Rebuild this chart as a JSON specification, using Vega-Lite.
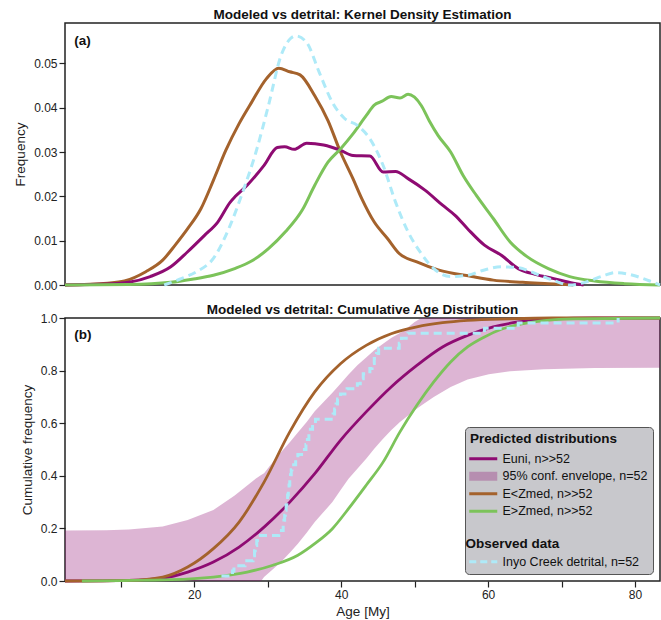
{
"$schema": "https://vega.github.io/schema/vega-lite/v6.json",
"autosize": {"type": "pad"},
"padding": {"left": 12, "top": 6, "right": 0, "bottom": 0},
"bounds": "flush",
"spacing": 33,
"config": {
  "font": "Liberation Sans",
  "view": {"stroke": "#222", "strokeWidth": 1.5},
  "axis": {"grid": false, "domain": false, "tickColor": "#222", "tickSize": 6, "tickWidth": 1.2, "labelFontSize": 12, "labelColor": "#222", "labelPadding": 2, "titleFontSize": 13.5, "titleFontWeight": "normal", "titleColor": "#222"},
  "axisY": {"titlePadding": 6},
  "axisX": {"titlePadding": 4},
  "title": {"fontSize": 13.5, "fontWeight": "bold", "color": "#111", "offset": 2}
},
"datasets": {
  "kde": [
    {"series": "Euni, n>>52", "age": 2.4, "value": 0},
    {"series": "Euni, n>>52", "age": 8.2, "value": 0.0002},
    {"series": "Euni, n>>52", "age": 11.1, "value": 0.0006},
    {"series": "Euni, n>>52", "age": 14.0, "value": 0.0019},
    {"series": "Euni, n>>52", "age": 16.8, "value": 0.0041},
    {"series": "Euni, n>>52", "age": 19.1, "value": 0.0075},
    {"series": "Euni, n>>52", "age": 21.4, "value": 0.0112},
    {"series": "Euni, n>>52", "age": 23.2, "value": 0.0142},
    {"series": "Euni, n>>52", "age": 24.9, "value": 0.0187},
    {"series": "Euni, n>>52", "age": 25.6, "value": 0.0200},
    {"series": "Euni, n>>52", "age": 27.2, "value": 0.0225},
    {"series": "Euni, n>>52", "age": 29.5, "value": 0.0270},
    {"series": "Euni, n>>52", "age": 31.3, "value": 0.0310},
    {"series": "Euni, n>>52", "age": 32.3, "value": 0.0312},
    {"series": "Euni, n>>52", "age": 33.6, "value": 0.0306},
    {"series": "Euni, n>>52", "age": 35.3, "value": 0.0320},
    {"series": "Euni, n>>52", "age": 37.6, "value": 0.0316},
    {"series": "Euni, n>>52", "age": 39.9, "value": 0.0304},
    {"series": "Euni, n>>52", "age": 41.6, "value": 0.0292},
    {"series": "Euni, n>>52", "age": 43.9, "value": 0.0291},
    {"series": "Euni, n>>52", "age": 45.7, "value": 0.0255},
    {"series": "Euni, n>>52", "age": 47.4, "value": 0.0256},
    {"series": "Euni, n>>52", "age": 49.1, "value": 0.0240},
    {"series": "Euni, n>>52", "age": 51.4, "value": 0.0214},
    {"series": "Euni, n>>52", "age": 53.8, "value": 0.0180},
    {"series": "Euni, n>>52", "age": 55.5, "value": 0.0157},
    {"series": "Euni, n>>52", "age": 57.2, "value": 0.0127},
    {"series": "Euni, n>>52", "age": 59.5, "value": 0.0090},
    {"series": "Euni, n>>52", "age": 61.8, "value": 0.0067},
    {"series": "Euni, n>>52", "age": 64.1, "value": 0.0037},
    {"series": "Euni, n>>52", "age": 66.4, "value": 0.0024},
    {"series": "Euni, n>>52", "age": 68.8, "value": 0.0015},
    {"series": "Euni, n>>52", "age": 71.6, "value": 0.0004},
    {"series": "Euni, n>>52", "age": 73.0, "value": 0},
    {"series": "E<Zmed, n>>52", "age": 2.4, "value": 0},
    {"series": "E<Zmed, n>>52", "age": 8.2, "value": 0.0004},
    {"series": "E<Zmed, n>>52", "age": 10.5, "value": 0.0009},
    {"series": "E<Zmed, n>>52", "age": 13.4, "value": 0.0030},
    {"series": "E<Zmed, n>>52", "age": 15.7, "value": 0.0056},
    {"series": "E<Zmed, n>>52", "age": 17.4, "value": 0.0090},
    {"series": "E<Zmed, n>>52", "age": 19.1, "value": 0.0127},
    {"series": "E<Zmed, n>>52", "age": 20.9, "value": 0.0172},
    {"series": "E<Zmed, n>>52", "age": 22.6, "value": 0.0236},
    {"series": "E<Zmed, n>>52", "age": 24.3, "value": 0.0304},
    {"series": "E<Zmed, n>>52", "age": 26.1, "value": 0.0364},
    {"series": "E<Zmed, n>>52", "age": 27.8, "value": 0.0412},
    {"series": "E<Zmed, n>>52", "age": 29.8, "value": 0.0465},
    {"series": "E<Zmed, n>>52", "age": 31.5, "value": 0.0489},
    {"series": "E<Zmed, n>>52", "age": 33.0, "value": 0.0481},
    {"series": "E<Zmed, n>>52", "age": 34.4, "value": 0.0474},
    {"series": "E<Zmed, n>>52", "age": 36.4, "value": 0.0427},
    {"series": "E<Zmed, n>>52", "age": 38.2, "value": 0.0371},
    {"series": "E<Zmed, n>>52", "age": 39.9, "value": 0.0300},
    {"series": "E<Zmed, n>>52", "age": 41.6, "value": 0.0240},
    {"series": "E<Zmed, n>>52", "age": 42.8, "value": 0.0195},
    {"series": "E<Zmed, n>>52", "age": 44.5, "value": 0.0142},
    {"series": "E<Zmed, n>>52", "age": 46.3, "value": 0.0105},
    {"series": "E<Zmed, n>>52", "age": 47.9, "value": 0.0071},
    {"series": "E<Zmed, n>>52", "age": 50.3, "value": 0.0052},
    {"series": "E<Zmed, n>>52", "age": 53.2, "value": 0.0034},
    {"series": "E<Zmed, n>>52", "age": 57.8, "value": 0.0019},
    {"series": "E<Zmed, n>>52", "age": 60.7, "value": 0.0011},
    {"series": "E<Zmed, n>>52", "age": 64.7, "value": 0.0006},
    {"series": "E<Zmed, n>>52", "age": 68.2, "value": 0.0003},
    {"series": "E<Zmed, n>>52", "age": 71.6, "value": 0},
    {"series": "E>Zmed, n>>52", "age": 2.4, "value": 0},
    {"series": "E>Zmed, n>>52", "age": 11.1, "value": 0.0001},
    {"series": "E>Zmed, n>>52", "age": 16.8, "value": 0.0006},
    {"series": "E>Zmed, n>>52", "age": 19.7, "value": 0.0013},
    {"series": "E>Zmed, n>>52", "age": 22.6, "value": 0.0022},
    {"series": "E>Zmed, n>>52", "age": 25.5, "value": 0.0037},
    {"series": "E>Zmed, n>>52", "age": 27.8, "value": 0.0054},
    {"series": "E>Zmed, n>>52", "age": 30.1, "value": 0.0082},
    {"series": "E>Zmed, n>>52", "age": 32.4, "value": 0.0120},
    {"series": "E>Zmed, n>>52", "age": 34.7, "value": 0.0169},
    {"series": "E>Zmed, n>>52", "age": 36.4, "value": 0.0225},
    {"series": "E>Zmed, n>>52", "age": 38.2, "value": 0.0277},
    {"series": "E>Zmed, n>>52", "age": 39.9, "value": 0.0307},
    {"series": "E>Zmed, n>>52", "age": 41.6, "value": 0.0341},
    {"series": "E>Zmed, n>>52", "age": 43.4, "value": 0.0382},
    {"series": "E>Zmed, n>>52", "age": 44.5, "value": 0.0406},
    {"series": "E>Zmed, n>>52", "age": 45.5, "value": 0.0414},
    {"series": "E>Zmed, n>>52", "age": 46.8, "value": 0.0425},
    {"series": "E>Zmed, n>>52", "age": 48.0, "value": 0.0422},
    {"series": "E>Zmed, n>>52", "age": 49.1, "value": 0.0430},
    {"series": "E>Zmed, n>>52", "age": 50.9, "value": 0.0405},
    {"series": "E>Zmed, n>>52", "age": 52.0, "value": 0.0370},
    {"series": "E>Zmed, n>>52", "age": 53.2, "value": 0.0337},
    {"series": "E>Zmed, n>>52", "age": 54.9, "value": 0.0300},
    {"series": "E>Zmed, n>>52", "age": 56.6, "value": 0.0247},
    {"series": "E>Zmed, n>>52", "age": 58.4, "value": 0.0202},
    {"series": "E>Zmed, n>>52", "age": 60.7, "value": 0.0150},
    {"series": "E>Zmed, n>>52", "age": 63.0, "value": 0.0097},
    {"series": "E>Zmed, n>>52", "age": 65.3, "value": 0.0064},
    {"series": "E>Zmed, n>>52", "age": 68.2, "value": 0.0037},
    {"series": "E>Zmed, n>>52", "age": 71.1, "value": 0.0019},
    {"series": "E>Zmed, n>>52", "age": 74.5, "value": 0.0009},
    {"series": "E>Zmed, n>>52", "age": 78.6, "value": 0.0003},
    {"series": "E>Zmed, n>>52", "age": 83.4, "value": 0},
    {"series": "Inyo Creek detrital, n=52", "age": 15.9, "value": 0},
    {"series": "Inyo Creek detrital, n=52", "age": 18.0, "value": 0.0013},
    {"series": "Inyo Creek detrital, n=52", "age": 20.3, "value": 0.0030},
    {"series": "Inyo Creek detrital, n=52", "age": 22.6, "value": 0.0060},
    {"series": "Inyo Creek detrital, n=52", "age": 24.9, "value": 0.0135},
    {"series": "Inyo Creek detrital, n=52", "age": 26.6, "value": 0.0210},
    {"series": "Inyo Creek detrital, n=52", "age": 28.4, "value": 0.0300},
    {"series": "Inyo Creek detrital, n=52", "age": 30.1, "value": 0.0405},
    {"series": "Inyo Creek detrital, n=52", "age": 31.8, "value": 0.0517},
    {"series": "Inyo Creek detrital, n=52", "age": 33.1, "value": 0.0556},
    {"series": "Inyo Creek detrital, n=52", "age": 33.8, "value": 0.0562},
    {"series": "Inyo Creek detrital, n=52", "age": 35.3, "value": 0.0547},
    {"series": "Inyo Creek detrital, n=52", "age": 37.0, "value": 0.0480},
    {"series": "Inyo Creek detrital, n=52", "age": 38.8, "value": 0.0412},
    {"series": "Inyo Creek detrital, n=52", "age": 40.5, "value": 0.0375},
    {"series": "Inyo Creek detrital, n=52", "age": 42.2, "value": 0.0360},
    {"series": "Inyo Creek detrital, n=52", "age": 43.9, "value": 0.0330},
    {"series": "Inyo Creek detrital, n=52", "age": 45.7, "value": 0.0270},
    {"series": "Inyo Creek detrital, n=52", "age": 47.4, "value": 0.0187},
    {"series": "Inyo Creek detrital, n=52", "age": 49.1, "value": 0.0120},
    {"series": "Inyo Creek detrital, n=52", "age": 50.9, "value": 0.0071},
    {"series": "Inyo Creek detrital, n=52", "age": 52.6, "value": 0.0037},
    {"series": "Inyo Creek detrital, n=52", "age": 54.9, "value": 0.0019},
    {"series": "Inyo Creek detrital, n=52", "age": 57.2, "value": 0.0022},
    {"series": "Inyo Creek detrital, n=52", "age": 59.5, "value": 0.0034},
    {"series": "Inyo Creek detrital, n=52", "age": 61.8, "value": 0.0041},
    {"series": "Inyo Creek detrital, n=52", "age": 64.1, "value": 0.0039},
    {"series": "Inyo Creek detrital, n=52", "age": 66.4, "value": 0.0026},
    {"series": "Inyo Creek detrital, n=52", "age": 68.8, "value": 0.0011},
    {"series": "Inyo Creek detrital, n=52", "age": 71.1, "value": 0},
    {"series": "Inyo Creek detrital, n=52", "age": 73.4, "value": 0.0007},
    {"series": "Inyo Creek detrital, n=52", "age": 75.7, "value": 0.0021},
    {"series": "Inyo Creek detrital, n=52", "age": 77.4, "value": 0.0028},
    {"series": "Inyo Creek detrital, n=52", "age": 79.7, "value": 0.0022},
    {"series": "Inyo Creek detrital, n=52", "age": 82.0, "value": 0.0009},
    {"series": "Inyo Creek detrital, n=52", "age": 83.4, "value": 0}
  ],
  "cdf": [
    {"series": "Euni, n>>52", "age": 2.4, "value": 0},
    {"series": "Euni, n>>52", "age": 11.1, "value": 0.0025},
    {"series": "Euni, n>>52", "age": 15.7, "value": 0.011},
    {"series": "Euni, n>>52", "age": 19.1, "value": 0.034},
    {"series": "Euni, n>>52", "age": 22.6, "value": 0.072},
    {"series": "Euni, n>>52", "age": 26.1, "value": 0.129},
    {"series": "Euni, n>>52", "age": 29.5, "value": 0.205},
    {"series": "Euni, n>>52", "age": 33.0, "value": 0.300},
    {"series": "Euni, n>>52", "age": 36.4, "value": 0.408},
    {"series": "Euni, n>>52", "age": 39.9, "value": 0.535},
    {"series": "Euni, n>>52", "age": 43.4, "value": 0.643},
    {"series": "Euni, n>>52", "age": 46.8, "value": 0.738},
    {"series": "Euni, n>>52", "age": 50.3, "value": 0.820},
    {"series": "Euni, n>>52", "age": 53.8, "value": 0.890},
    {"series": "Euni, n>>52", "age": 57.2, "value": 0.934},
    {"series": "Euni, n>>52", "age": 60.7, "value": 0.966},
    {"series": "Euni, n>>52", "age": 64.1, "value": 0.985},
    {"series": "Euni, n>>52", "age": 68.8, "value": 0.997},
    {"series": "Euni, n>>52", "age": 74.5, "value": 1.0},
    {"series": "Euni, n>>52", "age": 83.4, "value": 1.0},
    {"series": "E<Zmed, n>>52", "age": 2.4, "value": 0},
    {"series": "E<Zmed, n>>52", "age": 11.1, "value": 0.0025},
    {"series": "E<Zmed, n>>52", "age": 15.7, "value": 0.015},
    {"series": "E<Zmed, n>>52", "age": 19.1, "value": 0.053},
    {"series": "E<Zmed, n>>52", "age": 22.6, "value": 0.123},
    {"series": "E<Zmed, n>>52", "age": 26.1, "value": 0.224},
    {"series": "E<Zmed, n>>52", "age": 29.5, "value": 0.376},
    {"series": "E<Zmed, n>>52", "age": 33.0, "value": 0.567},
    {"series": "E<Zmed, n>>52", "age": 36.4, "value": 0.719},
    {"series": "E<Zmed, n>>52", "age": 39.9, "value": 0.826},
    {"series": "E<Zmed, n>>52", "age": 43.4, "value": 0.896},
    {"series": "E<Zmed, n>>52", "age": 46.8, "value": 0.940},
    {"series": "E<Zmed, n>>52", "age": 50.3, "value": 0.966},
    {"series": "E<Zmed, n>>52", "age": 53.8, "value": 0.982},
    {"series": "E<Zmed, n>>52", "age": 57.2, "value": 0.991},
    {"series": "E<Zmed, n>>52", "age": 63.0, "value": 0.997},
    {"series": "E<Zmed, n>>52", "age": 68.8, "value": 1.0},
    {"series": "E<Zmed, n>>52", "age": 83.4, "value": 1.0},
    {"series": "E>Zmed, n>>52", "age": 4.7, "value": 0},
    {"series": "E>Zmed, n>>52", "age": 16.8, "value": 0.005},
    {"series": "E>Zmed, n>>52", "age": 22.6, "value": 0.015},
    {"series": "E>Zmed, n>>52", "age": 27.2, "value": 0.034},
    {"series": "E>Zmed, n>>52", "age": 30.7, "value": 0.060},
    {"series": "E>Zmed, n>>52", "age": 34.1, "value": 0.098},
    {"series": "E>Zmed, n>>52", "age": 36.4, "value": 0.142},
    {"series": "E>Zmed, n>>52", "age": 38.8, "value": 0.199},
    {"series": "E>Zmed, n>>52", "age": 41.0, "value": 0.275},
    {"series": "E>Zmed, n>>52", "age": 43.4, "value": 0.364},
    {"series": "E>Zmed, n>>52", "age": 45.7, "value": 0.452},
    {"series": "E>Zmed, n>>52", "age": 48.0, "value": 0.567},
    {"series": "E>Zmed, n>>52", "age": 50.3, "value": 0.668},
    {"series": "E>Zmed, n>>52", "age": 52.6, "value": 0.757},
    {"series": "E>Zmed, n>>52", "age": 54.9, "value": 0.833},
    {"series": "E>Zmed, n>>52", "age": 57.2, "value": 0.890},
    {"series": "E>Zmed, n>>52", "age": 59.5, "value": 0.928},
    {"series": "E>Zmed, n>>52", "age": 61.8, "value": 0.957},
    {"series": "E>Zmed, n>>52", "age": 64.1, "value": 0.975},
    {"series": "E>Zmed, n>>52", "age": 67.6, "value": 0.990},
    {"series": "E>Zmed, n>>52", "age": 71.6, "value": 0.997},
    {"series": "E>Zmed, n>>52", "age": 83.4, "value": 1.0}
  ],
  "env": [
    {"age": 2.4, "lo": 0, "hi": 0.192},
    {"age": 8.0, "lo": 0, "hi": 0.193},
    {"age": 11.1, "lo": 0, "hi": 0.196},
    {"age": 15.7, "lo": 0, "hi": 0.207},
    {"age": 19.1, "lo": 0, "hi": 0.232},
    {"age": 22.6, "lo": 0, "hi": 0.270},
    {"age": 25.5, "lo": 0, "hi": 0.325},
    {"age": 28.4, "lo": 0, "hi": 0.390},
    {"age": 29.1, "lo": 0, "hi": 0.403},
    {"age": 29.5, "lo": 0.015, "hi": 0.410},
    {"age": 30.7, "lo": 0.045, "hi": 0.452},
    {"age": 31.8, "lo": 0.072, "hi": 0.490},
    {"age": 33.0, "lo": 0.107, "hi": 0.528},
    {"age": 34.1, "lo": 0.142, "hi": 0.565},
    {"age": 35.3, "lo": 0.183, "hi": 0.605},
    {"age": 36.4, "lo": 0.224, "hi": 0.645},
    {"age": 37.6, "lo": 0.262, "hi": 0.681},
    {"age": 38.8, "lo": 0.300, "hi": 0.716},
    {"age": 39.9, "lo": 0.345, "hi": 0.750},
    {"age": 41.0, "lo": 0.389, "hi": 0.785},
    {"age": 42.2, "lo": 0.427, "hi": 0.820},
    {"age": 43.4, "lo": 0.465, "hi": 0.850},
    {"age": 44.5, "lo": 0.503, "hi": 0.877},
    {"age": 45.7, "lo": 0.541, "hi": 0.902},
    {"age": 46.8, "lo": 0.573, "hi": 0.924},
    {"age": 48.0, "lo": 0.605, "hi": 0.943},
    {"age": 48.6, "lo": 0.618, "hi": 0.953},
    {"age": 50.0, "lo": 0.649, "hi": 0.985},
    {"age": 50.9, "lo": 0.667, "hi": 1.0},
    {"age": 52.6, "lo": 0.700, "hi": 1.0},
    {"age": 54.9, "lo": 0.738, "hi": 1.0},
    {"age": 57.2, "lo": 0.766, "hi": 1.0},
    {"age": 60.1, "lo": 0.786, "hi": 1.0},
    {"age": 63.0, "lo": 0.798, "hi": 1.0},
    {"age": 67.6, "lo": 0.805, "hi": 1.0},
    {"age": 74.5, "lo": 0.810, "hi": 1.0},
    {"age": 83.4, "lo": 0.811, "hi": 1.0}
  ],
  "obs": [
    {"series": "Inyo Creek detrital, n=52", "age": 23.7, "value": 0.0192},
    {"series": "Inyo Creek detrital, n=52", "age": 25.2, "value": 0.0385},
    {"series": "Inyo Creek detrital, n=52", "age": 25.4, "value": 0.0577},
    {"series": "Inyo Creek detrital, n=52", "age": 26.9, "value": 0.0769},
    {"series": "Inyo Creek detrital, n=52", "age": 28.0, "value": 0.0962},
    {"series": "Inyo Creek detrital, n=52", "age": 28.2, "value": 0.1154},
    {"series": "Inyo Creek detrital, n=52", "age": 28.3, "value": 0.1346},
    {"series": "Inyo Creek detrital, n=52", "age": 28.5, "value": 0.1538},
    {"series": "Inyo Creek detrital, n=52", "age": 28.6, "value": 0.1731},
    {"series": "Inyo Creek detrital, n=52", "age": 31.5, "value": 0.1923},
    {"series": "Inyo Creek detrital, n=52", "age": 32.1, "value": 0.2115},
    {"series": "Inyo Creek detrital, n=52", "age": 32.2, "value": 0.2308},
    {"series": "Inyo Creek detrital, n=52", "age": 32.3, "value": 0.2500},
    {"series": "Inyo Creek detrital, n=52", "age": 32.4, "value": 0.2692},
    {"series": "Inyo Creek detrital, n=52", "age": 32.5, "value": 0.2885},
    {"series": "Inyo Creek detrital, n=52", "age": 32.6, "value": 0.3077},
    {"series": "Inyo Creek detrital, n=52", "age": 32.7, "value": 0.3269},
    {"series": "Inyo Creek detrital, n=52", "age": 32.8, "value": 0.3462},
    {"series": "Inyo Creek detrital, n=52", "age": 32.9, "value": 0.3654},
    {"series": "Inyo Creek detrital, n=52", "age": 33.0, "value": 0.3846},
    {"series": "Inyo Creek detrital, n=52", "age": 33.1, "value": 0.4038},
    {"series": "Inyo Creek detrital, n=52", "age": 33.2, "value": 0.4231},
    {"series": "Inyo Creek detrital, n=52", "age": 33.3, "value": 0.4423},
    {"series": "Inyo Creek detrital, n=52", "age": 33.8, "value": 0.4615},
    {"series": "Inyo Creek detrital, n=52", "age": 34.1, "value": 0.4808},
    {"series": "Inyo Creek detrital, n=52", "age": 35.0, "value": 0.5000},
    {"series": "Inyo Creek detrital, n=52", "age": 35.2, "value": 0.5192},
    {"series": "Inyo Creek detrital, n=52", "age": 35.4, "value": 0.5385},
    {"series": "Inyo Creek detrital, n=52", "age": 35.6, "value": 0.5577},
    {"series": "Inyo Creek detrital, n=52", "age": 35.8, "value": 0.5769},
    {"series": "Inyo Creek detrital, n=52", "age": 36.1, "value": 0.5962},
    {"series": "Inyo Creek detrital, n=52", "age": 36.5, "value": 0.6154},
    {"series": "Inyo Creek detrital, n=52", "age": 38.9, "value": 0.6346},
    {"series": "Inyo Creek detrital, n=52", "age": 39.1, "value": 0.6538},
    {"series": "Inyo Creek detrital, n=52", "age": 39.3, "value": 0.6731},
    {"series": "Inyo Creek detrital, n=52", "age": 39.5, "value": 0.6923},
    {"series": "Inyo Creek detrital, n=52", "age": 39.9, "value": 0.7115},
    {"series": "Inyo Creek detrital, n=52", "age": 40.8, "value": 0.7308},
    {"series": "Inyo Creek detrital, n=52", "age": 42.2, "value": 0.7500},
    {"series": "Inyo Creek detrital, n=52", "age": 42.6, "value": 0.7692},
    {"series": "Inyo Creek detrital, n=52", "age": 43.0, "value": 0.7885},
    {"series": "Inyo Creek detrital, n=52", "age": 43.9, "value": 0.8077},
    {"series": "Inyo Creek detrital, n=52", "age": 44.2, "value": 0.8269},
    {"series": "Inyo Creek detrital, n=52", "age": 44.5, "value": 0.8462},
    {"series": "Inyo Creek detrital, n=52", "age": 44.8, "value": 0.8654},
    {"series": "Inyo Creek detrital, n=52", "age": 45.1, "value": 0.8846},
    {"series": "Inyo Creek detrital, n=52", "age": 47.9, "value": 0.9038},
    {"series": "Inyo Creek detrital, n=52", "age": 48.2, "value": 0.9231},
    {"series": "Inyo Creek detrital, n=52", "age": 49.1, "value": 0.9423},
    {"series": "Inyo Creek detrital, n=52", "age": 59.5, "value": 0.9615},
    {"series": "Inyo Creek detrital, n=52", "age": 64.1, "value": 0.9808},
    {"series": "Inyo Creek detrital, n=52", "age": 77.7, "value": 1.0}
  ],
  "labels": [
    {"panel": "a", "label": "(a)", "age": 3.65, "value": 0.055},
    {"panel": "b", "label": "(b)", "age": 3.65, "value": 0.9365}
  ]
},
"vconcat": [
  {
    "width": 595,
    "height": 262,
    "title": {"text": "Modeled vs detrital: Kernel Density Estimation", "offset": 2},
    "encoding": {
      "x": {"field": "age", "type": "quantitative", "scale": {"domain": [2.4, 83.4], "nice": false, "zero": false}, "axis": null},
      "y": {"field": "value", "type": "quantitative", "scale": {"domain": [0, 0.0591], "nice": false}, "axis": {"title": "Frequency", "values": [0, 0.01, 0.02, 0.03, 0.04, 0.05], "format": ".2f"}},
      "color": {"field": "series", "type": "nominal", "legend": null,
        "scale": {"domain": ["Euni, n>>52", "E<Zmed, n>>52", "E>Zmed, n>>52", "Inyo Creek detrital, n=52"], "range": ["#8e0b72", "#a4622c", "#7cc35a", "#aeeaf8"]}}
    },
    "layer": [
      {"data": {"name": "kde"}, "transform": [{"filter": "datum.series === 'E<Zmed, n>>52'"}], "mark": {"type": "line", "strokeWidth": 3, "interpolate": "monotone"}},
      {"data": {"name": "kde"}, "transform": [{"filter": "datum.series === 'Euni, n>>52'"}], "mark": {"type": "line", "strokeWidth": 3, "interpolate": "monotone"}},
      {"data": {"name": "kde"}, "transform": [{"filter": "datum.series === 'E>Zmed, n>>52'"}], "mark": {"type": "line", "strokeWidth": 3, "interpolate": "monotone"}},
      {"data": {"name": "kde"}, "transform": [{"filter": "datum.series === 'Inyo Creek detrital, n=52'"}], "mark": {"type": "line", "strokeWidth": 3, "strokeDash": [8, 5], "interpolate": "monotone"}},
      {"data": {"name": "labels"}, "transform": [{"filter": "datum.panel === 'a'"}], "mark": {"type": "text", "align": "left", "baseline": "middle", "fontWeight": "bold", "fontSize": 13.5},
       "encoding": {"text": {"field": "label"}, "color": {"value": "#111"}}}
    ]
  },
  {
    "width": 595,
    "height": 263,
    "title": {"text": "Modeled vs detrital: Cumulative Age Distribution", "offset": -4},
    "encoding": {
      "x": {"field": "age", "type": "quantitative", "scale": {"domain": [2.4, 83.4], "nice": false, "zero": false},
        "axis": {"title": "Age [My]", "values": [10, 20, 30, 40, 50, 60, 70, 80], "labelExpr": "datum.value % 20 === 0 ? datum.label : ''"}},
      "y": {"field": "value", "type": "quantitative", "scale": {"domain": [0, 1], "nice": false}, "axis": {"title": "Cumulative frequency", "values": [0, 0.2, 0.4, 0.6, 0.8, 1.0], "format": ".1f"}},
      "color": {"field": "series", "type": "nominal",
        "scale": {"domain": ["Euni, n>>52", "95% conf. envelope, n=52", "E<Zmed, n>>52", "E>Zmed, n>>52", " ", "Observed data", "Inyo Creek detrital, n=52"],
                  "range": ["#8e0b72", "#8e0b72", "#a4622c", "#7cc35a", "#c8c8cc", "#c8c8cc", "#aeeaf8"]},
        "legend": {
          "title": "Predicted distributions",
          "orient": "bottom-right",
          "offset": 7,
          "padding": 5,
          "fillColor": "#c8c8cc",
          "strokeColor": "#555555",
          "cornerRadius": 4,
          "titleFontSize": 13.5,
          "titleFontWeight": "bold",
          "titleColor": "#111",
          "titlePadding": 7,
          "labelFontSize": 12.5,
          "labelColor": "#111",
          "labelLimit": 300,
          "labelOffset": 20,
          "rowPadding": 4.5,
          "symbolType": "M-1,0H3",
          "symbolSize": 196,
          "symbolStrokeWidth": 3,
          "encode": {
            "symbols": {"update": {
              "shape": {"signal": "datum.label === '95% conf. envelope, n=52' ? 'M-1,-0.64H3V0.64H-1Z' : 'M-1,0H3'"},
              "strokeWidth": {"signal": "(datum.label === '95% conf. envelope, n=52' || datum.label === ' ' || datum.label === 'Observed data') ? 0 : 3"},
              "strokeJoin": {"value": "round"},
              "strokeOpacity": {"signal": "(datum.label === '95% conf. envelope, n=52' || datum.label === ' ' || datum.label === 'Observed data') ? 0 : 1"},
              "strokeDash": {"signal": "datum.label === 'Inyo Creek detrital, n=52' ? [7, 4] : [1, 0]"},
              "fill": {"value": "#8e0b72"},
              "fillOpacity": {"signal": "datum.label === '95% conf. envelope, n=52' ? 0.3 : 0"}
            }},
            "labels": {"update": {
              "fontWeight": {"signal": "datum.label === 'Observed data' ? 'bold' : 'normal'"},
              "fontSize": {"signal": "datum.label === 'Observed data' ? 13.5 : (datum.label === ' ' ? 5 : 12.5)"},
              "dx": {"signal": "datum.label === 'Observed data' ? -37 : 0"}
            }}
          }
        }}
    },
    "layer": [
      {"data": {"name": "env"}, "mark": {"type": "area", "fillOpacity": 0.3},
       "encoding": {"y": {"field": "hi", "type": "quantitative"}, "y2": {"field": "lo"}, "color": {"value": "#8e0b72"}}},
      {"data": {"name": "cdf"}, "transform": [{"filter": "datum.series === 'Euni, n>>52'"}], "mark": {"type": "line", "strokeWidth": 2.8, "interpolate": "monotone"}},
      {"data": {"name": "cdf"}, "transform": [{"filter": "datum.series === 'E<Zmed, n>>52'"}], "mark": {"type": "line", "strokeWidth": 2.8, "interpolate": "monotone"}},
      {"data": {"name": "cdf"}, "transform": [{"filter": "datum.series === 'E>Zmed, n>>52'"}], "mark": {"type": "line", "strokeWidth": 2.8, "interpolate": "monotone"}},
      {"data": {"name": "obs"}, "mark": {"type": "line", "strokeWidth": 3, "strokeDash": [8, 5], "interpolate": "step-after"}},
      {"data": {"name": "labels"}, "transform": [{"filter": "datum.panel === 'b'"}], "mark": {"type": "text", "align": "left", "baseline": "middle", "fontWeight": "bold", "fontSize": 13.5},
       "encoding": {"text": {"field": "label"}, "color": {"value": "#111"}}}
    ]
  }
],
"resolve": {"scale": {"color": "independent"}, "legend": {"color": "independent"}}
}
